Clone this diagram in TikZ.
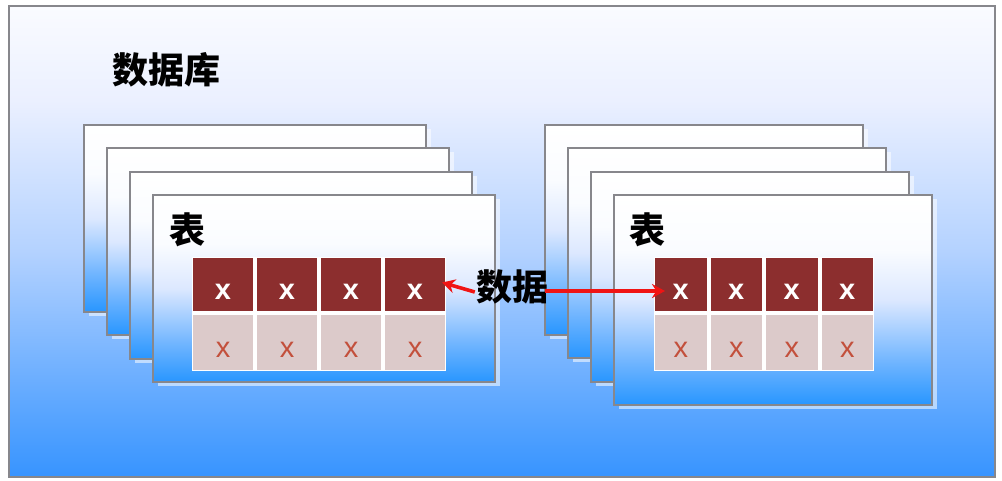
\documentclass[tikz,border=0pt]{standalone}
\usepackage{fontspec}
\setmainfont{Liberation Sans}
\newfontfamily\cjk{Noto Sans CJK SC}
\usetikzlibrary{shadows,arrows.meta,calc}
\definecolor{cardblue}{RGB}{40,150,255}
\definecolor{cardmidA}{RGB}{110,180,255}
\definecolor{cardmidB}{RGB}{220,232,255}
\definecolor{cardlight}{RGB}{250,252,255}
\definecolor{framebot}{RGB}{55,148,255}
\definecolor{frameA}{RGB}{95,168,255}
\definecolor{frameB}{RGB}{180,210,255}
\definecolor{frameC}{RGB}{235,240,255}
\definecolor{frametop}{RGB}{250,251,255}
\definecolor{bordergray}{RGB}{135,135,140}
\definecolor{darkcell}{RGB}{140,46,46}
\definecolor{lightcell}{RGB}{220,202,202}
\definecolor{xred}{RGB}{195,80,60}
\definecolor{arrowred}{RGB}{240,20,20}
\pgfdeclareverticalshading{cardshade}{100bp}{color(0bp)=(cardblue); color(25bp)=(cardblue); color(35bp)=(cardmidA); color(50bp)=(cardmidB); color(62bp)=(cardlight); color(75bp)=(white); color(100bp)=(white)}
\pgfdeclareverticalshading{frameshade}{100bp}{color(0bp)=(framebot); color(25bp)=(framebot); color(33bp)=(frameA); color(49bp)=(frameB); color(65bp)=(frameC); color(75bp)=(frametop); color(100bp)=(frametop)}
\tikzset{
  frame/.style={draw=bordergray, line width=2pt, shading=frameshade},
  card/.style={draw=bordergray, line width=1.8pt, shading=cardshade, anchor=north west, inner sep=0pt, outer sep=0pt,
    drop shadow={shadow xshift=5pt, shadow yshift=-4pt, fill=white, opacity=0.55}},
  leftcard/.style={card, minimum width=342pt, minimum height=187pt},
  rightcard/.style={card, minimum width=318pt, minimum height=210pt},
  topcell/.style={fill=darkcell, anchor=north west, inner sep=0pt, outer sep=0pt},
  botcell/.style={fill=lightcell, anchor=north west, inner sep=0pt, outer sep=0pt},
  topx/.style={text=white, inner sep=0pt, font=\fontsize{29}{30}\selectfont\bfseries},
  botx/.style={text=xred, inner sep=0pt, font=\fontsize{29}{30}\selectfont},
  tablebg/.style={fill=white, anchor=north west, inner sep=0pt, outer sep=0pt},
  bigcjk/.style={font=\cjk\bfseries\fontsize{36}{40}\selectfont, inner sep=0pt, text=black},
  redarrow/.style={draw=arrowred, line width=3.6pt, -{Stealth[length=13pt,width=14pt]}}
}
\begin{document}
\begin{tikzpicture}[x=1pt,y=-1pt]
\useasboundingbox (0,0) rectangle (1002,480);
% outer frame
\node[frame, anchor=north west, minimum width=986pt, minimum height=471pt, inner sep=0pt] (db) at (8,5) {};
\node[bigcjk, anchor=west] (dbl) at (112,70) {数据库};
% left group
\node[leftcard] (L1) at (84,125) {};
\node[leftcard] (L2) at (107,148) {};
\node[leftcard] (L3) at (130,172) {};
\node[leftcard] (L4) at (153,195) {};
\node[bigcjk, anchor=west] (Lt) at (169,230) {表};
\node[tablebg, minimum width=254pt, minimum height=114pt] (LT) at (192,257) {};
\foreach \i in {0,1,2,3}{
  \node[topcell, minimum width=60pt, minimum height=53pt] (La\i) at ({193+\i*64},258) {};
  \node[botcell, minimum width=60pt, minimum height=55pt] (Lb\i) at ({193+\i*64},315) {};
  \node[topx] (Lxa\i) at ($(La\i.center)+(0,7)$) {x};
  \node[botx] (Lxb\i) at ($(Lb\i.center)+(0,7)$) {x};
}
% right group
\node[rightcard] (R1) at (545,125) {};
\node[rightcard] (R2) at (568,148) {};
\node[rightcard] (R3) at (591,172) {};
\node[rightcard] (R4) at (614,195) {};
\node[bigcjk, anchor=west] (Rt) at (629,230) {表};
\node[tablebg, minimum width=220pt, minimum height=114pt] (RT) at (654,257) {};
\foreach \i in {0,1,2,3}{
  \node[topcell, minimum width=51.5pt, minimum height=53pt] (Ra\i) at ({655+\i*55.5},258) {};
  \node[botcell, minimum width=51.5pt, minimum height=55pt] (Rb\i) at ({655+\i*55.5},315) {};
  \node[topx] (Rxa\i) at ($(Ra\i.center)+(0,7)$) {x};
  \node[botx] (Rxb\i) at ($(Rb\i.center)+(0,7)$) {x};
}
% data label and arrows
\node[bigcjk] (data) at (512,287) {数据};
\coordinate (lstart) at ($(data.west)+(-1,5)$);
\coordinate (rstart) at ($(data.east)+(-3,4)$);
\coordinate (ltip) at ($(La3.east)+(-3,-2)$);
\coordinate (rtip) at ($(Ra0.west |- rstart)+(10,0)$);
\draw[redarrow] (lstart) -- (ltip);
\draw[redarrow] (rstart) -- (rtip);
\end{tikzpicture}
\end{document}
